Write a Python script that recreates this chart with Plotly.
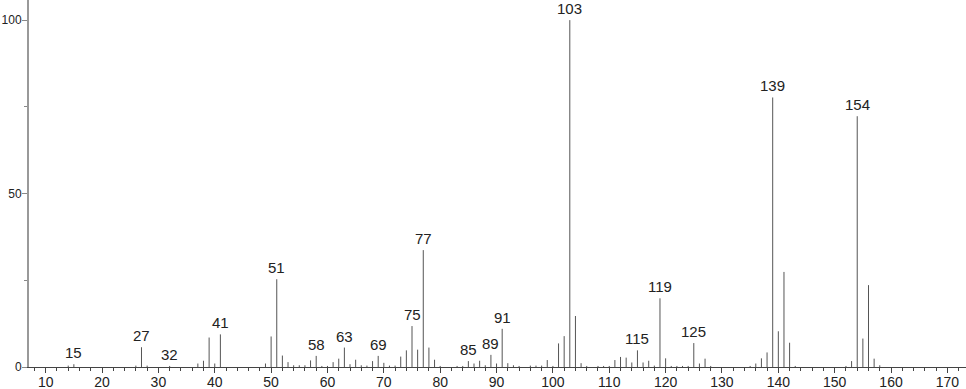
import plotly.graph_objects as go

mz = [14, 15, 26, 27, 28, 32, 37, 38, 39, 40, 41, 49, 50, 51, 52, 53, 54, 55, 56, 57,
      58, 59, 60, 61, 62, 63, 64, 65, 66, 67, 68, 69, 70, 71, 72, 73, 74, 75, 76, 77,
      78, 79, 80, 83, 84, 85, 86, 87, 88, 89, 90, 91, 92, 93, 94, 96, 97, 98, 99, 100,
      101, 102, 103, 104, 105, 106, 108, 109, 110, 111, 112, 113, 114, 115, 116, 117, 118, 119, 120, 121,
      122, 123, 124, 125, 126, 127, 128, 135, 136, 137, 138, 139, 140, 141, 142, 143, 152, 153, 154, 155,
      156, 157, 158]
intensity = [0.4, 0.8, 0.4, 5.7, 0.4, 0.3, 1.0, 1.8, 8.5, 1.0, 9.4, 1.0, 8.8, 25.3, 3.3, 1.4, 0.5, 0.5, 0.5, 1.9,
             3.2, 0.3, 0.3, 1.4, 2.4, 5.6, 0.8, 2.1, 0.5, 0.4, 1.7, 3.2, 1.2, 0.4, 0.4, 3.0, 4.8, 11.8, 5.0, 33.7,
             5.6, 2.1, 0.3, 0.3, 0.3, 1.7, 1.0, 1.8, 0.5, 3.5, 1.0, 11.0, 1.1, 0.5, 0.3, 0.4, 0.4, 0.4, 2.0, 0.3,
             6.8, 8.9, 100.0, 14.7, 1.1, 0.3, 0.3, 0.3, 0.3, 2.0, 2.9, 2.7, 1.3, 4.8, 1.3, 1.8, 0.4, 19.8, 2.5, 0.3,
             0.3, 0.3, 0.3, 6.9, 1.0, 2.4, 0.3, 0.3, 1.0, 2.5, 4.2, 77.7, 10.3, 27.4, 7.0, 0.3, 0.3, 1.7, 72.3, 8.2,
             23.6, 2.4, 0.5]
labeled = [15, 27, 32, 41, 51, 58, 63, 69, 75, 77, 85, 89, 91, 103, 115, 119, 125, 139, 154]
x_ticks = list(range(10, 171, 10))
y_ticks = [0, 50, 100]

xs, ys = [], []
for m, v in zip(mz, intensity):
    xs += [m, m, None]
    ys += [0, v, None]

fig = go.Figure()
fig.add_trace(go.Scatter(x=xs, y=ys, mode="lines",
                         line=dict(color="#555555", width=1),
                         hoverinfo="skip", showlegend=False))

lookup = dict(zip(mz, intensity))
for m in labeled:
    fig.add_annotation(x=m, y=lookup[m], text=str(m), showarrow=False,
                       xanchor="center", yanchor="bottom", yshift=1,
                       font=dict(family="Liberation Sans", size=15, color="#222222"))

fig.update_layout(
    width=966, height=389,
    margin=dict(l=29, r=0, t=0, b=22),
    plot_bgcolor="white", paper_bgcolor="white",
    font=dict(family="Liberation Sans", size=14, color="#222222"),
)
fig.update_xaxes(range=[7.04, 173.3], tickvals=x_ticks, ticks="outside", ticklen=5,
                 tickcolor="#444444", showline=True, linecolor="#444444", linewidth=1,
                 showgrid=False, zeroline=False, automargin=False, ticklabelstandoff=-3,
                 tickfont=dict(size=14),
                 minor=dict(dtick=2, tick0=0, ticks="outside", ticklen=3, tickcolor="#444444"))
fig.update_yaxes(range=[0, 105.8], tickvals=y_ticks, ticks="outside", ticklen=5,
                 tickcolor="#888888", showline=True, linecolor="#999999", linewidth=2,
                 showgrid=False, zeroline=False, automargin=False, ticklabelstandoff=-2,
                 tickfont=dict(size=12),
                 minor=dict(dtick=25, tick0=0, ticks="outside", ticklen=3, tickcolor="#888888"))

fig.write_html("out.html")
